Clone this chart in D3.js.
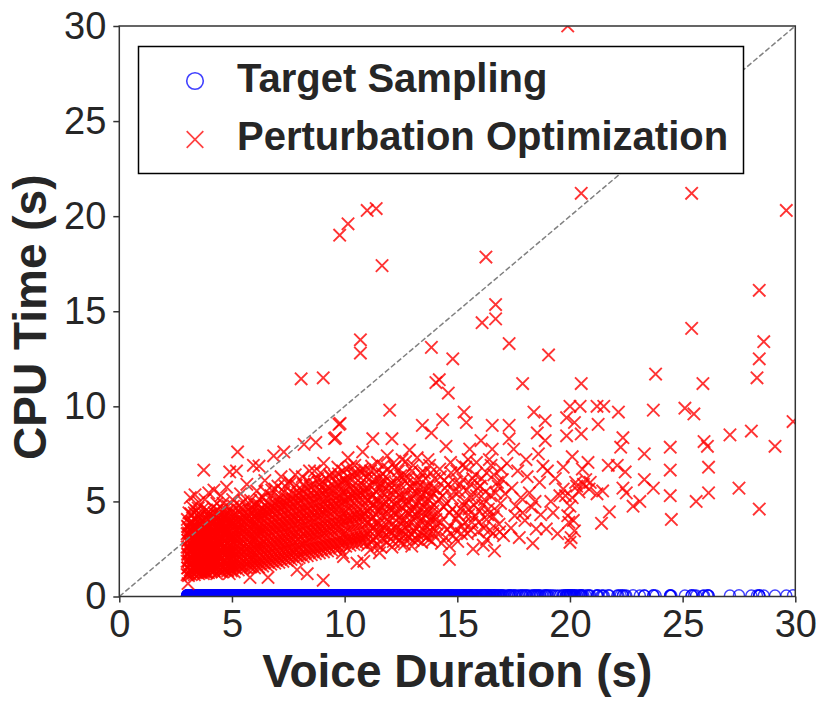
<!DOCTYPE html>
<html>
<head>
<meta charset="utf-8">
<title>CPU time vs voice duration</title>
<script src="https://cdn.jsdelivr.net/npm/d3@7"></script>
<style>
  body { margin: 0; background: #fff; }
  svg { font-family: "Liberation Sans", Arial, Helvetica, sans-serif; }
</style>
</head>
<body>
<svg id="chart" width="830" height="708"></svg>
<script>
// each clip: [voice duration (s), perturbation optimization CPU (s), target sampling CPU (s)]
const clips3to5 = [
  [3.01,1.15,.05],[3.01,1.85,.06],[3.01,2.6,.05],[3.01,3.3,.04],[3.02,4.05,.06],
  [3.05,0.68,.05],[3.05,1.5,.04],[3.05,2.2,.06],[3.05,2.95,.05],[3.05,3.65,.05],
  [3.09,1.2,.06],[3.09,1.9,.05],[3.09,2.55,.04],[3.09,3.25,.05],[3.09,4.4,.06],
  [3.14,1.4,.05],[3.14,2.1,.05],[3.14,2.8,.06],[3.14,3.5,.04],[3.15,5.2,.05],
  [3.19,1.15,.05],[3.19,1.75,.06],[3.19,2.45,.05],[3.19,3.1,.05],[3.19,3.8,.04],
  [3.24,1.5,.06],[3.24,2.2,.05],[3.24,2.9,.05],[3.24,3.55,.06],[3.25,4.7,.05],
  [3.3,1.25,.04],[3.3,1.95,.05],[3.3,2.65,.06],[3.3,3.35,.05],[3.3,4.1,.05],
  [3.35,1.6,.05],[3.35,2.35,.04],[3.35,3.05,.05],[3.35,3.75,.06],[3.36,5.35,.05],
  [3.41,1.3,.06],[3.41,2.0,.05],[3.41,2.7,.05],[3.41,3.4,.04],[3.42,4.5,.05],
  [3.46,1.55,.05],[3.46,2.25,.06],[3.46,2.95,.05],[3.46,3.65,.05],
  [3.52,1.2,.04],[3.52,1.9,.05],[3.52,2.6,.06],[3.52,3.3,.05],[3.52,4.2,.05],[3.53,4.95,.06],
  [3.57,1.45,.05],[3.57,2.15,.05],[3.57,2.85,.04],[3.57,3.55,.06],
  [3.63,1.3,.05],[3.63,2.0,.06],[3.63,2.7,.05],[3.63,3.4,.05],[3.63,3.95,.04],
  [3.68,1.6,.05],[3.68,2.3,.05],[3.68,3.05,.06],[3.68,3.75,.05],[3.69,4.6,.05],
  [3.73,1.2,.06],[3.73,1.95,.04],[3.73,2.6,.05],[3.73,3.3,.05],[3.75,6.65,.06],
  [3.79,1.45,.05],[3.79,2.15,.05],[3.79,2.9,.06],[3.79,3.6,.04],[3.8,5.1,.05],
  [3.85,1.3,.05],[3.85,2.05,.06],[3.85,2.75,.05],[3.85,3.45,.05],[3.85,4.15,.04],
  [3.9,1.6,.06],[3.9,2.35,.05],[3.9,3.05,.05],[3.9,3.8,.06],
  [3.96,1.25,.05],[3.96,1.95,.04],[3.96,2.6,.05],[3.96,3.3,.06],[3.96,4.45,.05],[3.97,5.45,.05],
  [4.02,1.55,.05],[4.02,2.25,.06],[4.02,2.95,.05],[4.02,3.7,.04],
  [4.08,1.3,.05],[4.08,2.0,.05],[4.08,2.7,.06],[4.08,3.4,.05],[4.08,4.1,.05],
  [4.14,1.65,.04],[4.14,2.4,.05],[4.14,3.1,.06],[4.14,3.85,.05],[4.2,5.6,.05],
  [4.2,1.35,.06],[4.2,2.1,.05],[4.2,2.8,.05],[4.2,3.5,.04],[4.21,4.4,.05],
  [4.26,1.7,.05],[4.26,2.45,.06],[4.26,3.2,.05],[4.26,3.95,.05],
  [4.32,1.2,.04],[4.32,1.95,.05],[4.32,2.65,.06],[4.32,3.35,.05],[4.33,4.9,.05],
  [4.38,1.55,.05],[4.38,2.3,.05],[4.38,3.05,.04],[4.38,3.75,.06],[4.38,4.25,.05],
  [4.44,1.35,.05],[4.44,2.1,.06],[4.44,2.85,.05],[4.44,3.55,.05],
  [4.5,1.7,.04],[4.5,2.5,.05],[4.5,3.25,.06],[4.5,4.0,.05],[4.51,5.3,.05],
  [4.56,1.3,.05],[4.56,2.0,.05],[4.56,2.75,.06],[4.56,3.45,.04],[4.57,4.6,.05],
  [4.62,1.6,.06],[4.62,2.35,.05],[4.62,3.1,.05],[4.62,3.85,.05],
  [4.68,1.4,.05],[4.68,2.15,.04],[4.68,2.9,.05],[4.68,3.6,.06],[4.69,4.3,.05],
  [4.75,1.75,.05],[4.75,2.5,.06],[4.75,3.3,.05],[4.75,4.05,.05],[4.76,5.75,.04],
  [4.81,1.35,.05],[4.81,2.05,.05],[4.81,2.8,.06],[4.81,3.5,.05],[4.82,4.75,.05],
  [4.88,1.2,.06],[4.88,1.65,.05],[4.88,2.4,.04],[4.88,3.15,.05],[4.88,3.9,.05],[4.9,6.55,.06],
  [4.94,1.45,.05],[4.94,2.2,.05],[4.94,2.95,.06],[4.94,3.7,.05],[4.95,4.45,.04]
];

const clips3to5More = [
  [3.03,1.5,.05],[3.03,2.25,.06],[3.04,2.95,.05],[3.03,3.7,.05],
  [3.07,1.1,.04],[3.07,1.85,.05],[3.08,2.6,.06],[3.07,3.35,.05],
  [3.12,1.65,.05],[3.12,2.4,.05],[3.11,3.05,.04],[3.12,3.85,.06],
  [3.17,1.35,.05],[3.17,2.05,.05],[3.16,2.75,.06],[3.17,3.45,.05],[3.18,4.35,.05],
  [3.22,1.85,.04],[3.21,2.55,.05],[3.22,3.25,.06],[3.22,3.95,.05],
  [3.27,1.55,.05],[3.27,2.3,.06],[3.28,3.0,.05],[3.27,3.7,.04],
  [3.33,1.15,.05],[3.32,1.85,.05],[3.33,2.55,.06],[3.32,3.25,.05],[3.33,4.4,.05],
  [3.38,1.45,.06],[3.38,2.15,.05],[3.39,2.85,.04],[3.38,3.55,.05],
  [3.44,1.85,.05],[3.43,2.6,.06],[3.44,3.2,.05],[3.44,3.95,.05],
  [3.49,1.35,.05],[3.49,2.05,.04],[3.5,2.75,.05],[3.49,3.45,.06],[3.5,4.65,.05],
  [3.55,1.65,.05],[3.55,2.4,.06],[3.54,3.1,.05],[3.55,3.85,.05],
  [3.6,1.25,.04],[3.6,1.95,.05],[3.61,2.6,.05],[3.6,3.3,.06],[3.6,4.3,.05],
  [3.66,1.5,.05],[3.66,2.25,.06],[3.65,2.95,.05],[3.66,3.6,.04],
  [3.71,1.75,.05],[3.71,2.45,.05],[3.7,3.15,.06],[3.71,4.0,.05],
  [3.76,1.3,.05],[3.76,2.1,.04],[3.77,2.75,.05],[3.76,3.5,.06],
  [3.82,1.6,.05],[3.82,2.35,.05],[3.81,3.0,.06],[3.82,3.8,.05],[3.83,4.5,.04],
  [3.88,1.25,.05],[3.87,1.9,.06],[3.88,2.6,.05],[3.88,3.3,.05],
  [3.93,1.5,.06],[3.93,2.2,.05],[3.92,2.9,.04],[3.93,3.6,.05],[3.93,4.25,.05],
  [3.99,1.75,.05],[3.99,2.45,.06],[3.98,3.1,.05],[3.99,3.95,.05],
  [4.05,1.4,.04],[4.05,2.1,.05],[4.06,2.8,.06],[4.05,3.55,.05],[4.05,4.35,.05],
  [4.11,1.8,.05],[4.11,2.55,.05],[4.12,3.3,.06],[4.11,4.0,.04],
  [4.17,1.5,.05],[4.17,2.25,.06],[4.17,2.95,.05],[4.18,3.7,.05],[4.17,4.7,.05],
  [4.23,1.9,.06],[4.23,2.6,.05],[4.24,3.35,.04],[4.23,4.15,.05],
  [4.29,1.45,.05],[4.29,2.2,.05],[4.29,2.95,.06],[4.3,3.65,.05],
  [4.35,1.8,.05],[4.35,2.55,.04],[4.36,3.3,.05],[4.35,4.05,.06],[4.36,4.55,.05],
  [4.41,1.5,.05],[4.41,2.25,.06],[4.42,2.95,.05],[4.41,3.9,.05],
  [4.47,1.95,.04],[4.47,2.7,.05],[4.47,3.45,.06],[4.48,4.25,.05],
  [4.53,1.5,.05],[4.53,2.3,.05],[4.54,3.05,.06],[4.53,3.75,.05],
  [4.59,1.85,.05],[4.59,2.55,.04],[4.6,3.3,.05],[4.59,4.15,.06],[4.6,4.9,.05],
  [4.65,1.45,.05],[4.65,2.2,.06],[4.66,2.95,.05],[4.65,3.7,.05],
  [4.71,1.9,.05],[4.71,2.65,.05],[4.72,3.45,.04],[4.71,4.2,.06],
  [4.78,1.55,.05],[4.78,2.3,.05],[4.79,3.05,.06],[4.78,3.8,.05],[4.79,4.5,.05],
  [4.85,1.95,.04],[4.85,2.65,.05],[4.86,3.4,.06],[4.85,4.2,.05],
  [4.91,1.6,.05],[4.91,2.4,.05],[4.92,3.15,.06],[4.91,3.9,.05],
  [4.97,1.35,.05],[4.97,2.0,.06],[4.98,2.7,.05],[4.97,3.45,.04],[4.98,4.2,.05]
];

const clips5to8 = [
  [5.02,1.6,.05],[5.02,2.35,.06],[5.02,3.1,.05],[5.02,3.85,.05],[5.03,5.1,.04],
  [5.1,1.3,.05],[5.1,2.05,.05],[5.1,2.8,.06],[5.1,3.5,.05],[5.1,4.3,.05],
  [5.19,1.7,.04],[5.19,2.45,.05],[5.19,3.2,.06],[5.19,3.95,.05],[5.2,6.6,.05],
  [5.25,7.6,.05],
  [5.28,1.4,.06],[5.28,2.15,.05],[5.28,2.9,.05],[5.28,3.65,.04],[5.29,4.55,.05],
  [5.37,1.75,.05],[5.37,2.5,.06],[5.37,3.3,.05],[5.37,4.05,.05],[5.38,5.4,.06],
  [5.46,1.45,.05],[5.46,2.2,.04],[5.46,2.95,.05],[5.46,3.75,.05],[5.46,4.6,.06],
  [5.55,1.8,.05],[5.55,2.6,.05],[5.55,3.4,.06],[5.55,4.15,.05],
  [5.64,1.5,.04],[5.64,2.3,.05],[5.64,3.05,.05],[5.64,3.85,.06],[5.65,4.7,.05],[5.66,5.9,.05],
  [5.73,1.85,.05],[5.73,2.65,.06],[5.73,3.45,.05],[5.73,4.25,.04],
  [5.8,1.0,.05],[5.82,1.55,.05],[5.82,2.35,.06],[5.82,3.15,.05],[5.82,3.95,.05],[5.83,5.05,.05],
  [5.91,1.9,.04],[5.91,2.7,.05],[5.91,3.5,.06],[5.91,4.35,.05],
  [5.95,6.9,.05],
  [6.0,1.5,.05],[6.0,2.3,.06],[6.0,3.1,.05],[6.0,3.9,.04],[6.01,4.8,.05],
  [6.09,1.85,.05],[6.09,2.65,.05],[6.09,3.45,.06],[6.09,4.25,.05],[6.1,5.55,.05],
  [6.18,1.55,.06],[6.18,2.4,.05],[6.18,3.2,.04],[6.18,4.0,.05],[6.19,4.85,.05],
  [6.2,6.85,.05],
  [6.27,1.95,.05],[6.27,2.75,.06],[6.27,3.55,.05],[6.27,4.4,.05],
  [6.36,1.6,.04],[6.36,2.45,.05],[6.36,3.3,.05],[6.36,4.1,.06],[6.37,5.2,.05],
  [6.45,2.0,.05],[6.45,2.85,.05],[6.45,3.65,.06],[6.45,4.5,.05],[6.46,6.1,.04],
  [6.54,1.65,.05],[6.54,2.5,.06],[6.54,3.35,.05],[6.54,4.2,.05],[6.55,4.95,.05],
  [6.6,1.0,.06],
  [6.63,2.05,.05],[6.63,2.9,.05],[6.63,3.75,.04],[6.63,4.6,.05],
  [6.72,1.7,.06],[6.72,2.55,.05],[6.72,3.4,.05],[6.72,4.3,.05],[6.73,5.3,.06],
  [6.81,2.1,.05],[6.81,2.95,.04],[6.81,3.8,.05],[6.81,4.7,.05],
  [6.85,7.4,.06],
  [6.9,1.75,.05],[6.9,2.6,.05],[6.9,3.5,.06],[6.9,4.35,.05],[6.91,5.65,.05],
  [6.99,2.15,.04],[6.99,3.0,.05],[6.99,3.9,.05],[6.99,4.8,.06],
  [7.08,1.8,.05],[7.08,2.7,.05],[7.08,3.55,.06],[7.08,4.45,.05],[7.09,5.1,.04],
  [7.17,2.2,.05],[7.17,3.1,.05],[7.17,3.95,.06],[7.17,4.85,.05],[7.18,6.3,.05],
  [7.26,1.85,.06],[7.26,2.75,.05],[7.26,3.65,.05],[7.26,4.55,.04],
  [7.3,7.6,.05],
  [7.35,2.25,.05],[7.35,3.15,.06],[7.35,4.05,.05],[7.35,4.95,.05],[7.36,5.8,.05],
  [7.44,1.9,.04],[7.44,2.8,.05],[7.44,3.7,.06],[7.44,4.6,.05],
  [7.53,2.3,.05],[7.53,3.2,.05],[7.53,4.1,.06],[7.53,5.05,.05],[7.54,6.05,.04],
  [7.62,1.95,.05],[7.62,2.85,.05],[7.62,3.75,.06],[7.62,4.7,.05],
  [7.71,2.35,.05],[7.71,3.25,.04],[7.71,4.2,.05],[7.71,5.15,.06],
  [7.8,2.0,.05],[7.8,2.9,.05],[7.8,3.85,.06],[7.8,4.8,.05],[7.81,6.4,.05],
  [7.89,1.4,.05],[7.89,2.45,.06],[7.89,3.35,.05],[7.89,4.3,.04],[7.89,5.3,.05],
  [7.98,2.05,.05],[7.98,3.0,.06],[7.98,3.95,.05],[7.98,4.9,.05]
];

const clips5to8More = [
  [5.06,1.7,.05],[5.06,2.45,.05],[5.07,3.2,.06],[5.06,3.95,.05],[5.07,4.75,.04],
  [5.14,1.5,.05],[5.14,2.25,.06],[5.15,3.0,.05],[5.14,3.75,.05],
  [5.23,1.95,.05],[5.23,2.7,.04],[5.24,3.5,.05],[5.23,4.3,.06],
  [5.32,1.6,.05],[5.32,2.35,.05],[5.33,3.1,.06],[5.32,3.9,.05],[5.33,4.8,.05],
  [5.41,1.95,.04],[5.41,2.75,.05],[5.42,3.5,.06],[5.41,4.3,.05],
  [5.5,1.55,.05],[5.5,2.35,.05],[5.51,3.15,.06],[5.5,3.95,.05],[5.51,5.0,.05],
  [5.59,2.0,.06],[5.59,2.8,.05],[5.6,3.6,.04],[5.59,4.4,.05],
  [5.68,1.7,.05],[5.68,2.5,.06],[5.69,3.3,.05],[5.68,4.1,.05],
  [5.77,2.05,.05],[5.77,2.85,.05],[5.78,3.65,.06],[5.77,4.5,.04],
  [5.86,1.7,.05],[5.86,2.5,.05],[5.87,3.3,.06],[5.86,4.1,.05],[5.87,4.75,.05],
  [5.95,2.05,.06],[5.95,2.9,.05],[5.96,3.7,.05],[5.95,4.55,.04],
  [6.04,1.7,.05],[6.04,2.5,.05],[6.05,3.3,.06],[6.04,4.1,.05],[6.05,4.9,.05],
  [6.13,2.05,.05],[6.13,2.85,.04],[6.14,3.65,.05],[6.13,4.45,.06],
  [6.22,1.75,.05],[6.22,2.6,.05],[6.23,3.4,.06],[6.22,4.2,.05],[6.23,5.1,.05],
  [6.31,2.15,.04],[6.31,2.95,.05],[6.32,3.8,.06],[6.31,4.6,.05],
  [6.4,1.8,.05],[6.4,2.65,.05],[6.41,3.5,.06],[6.4,4.3,.05],
  [6.49,2.2,.05],[6.49,3.05,.04],[6.5,3.9,.05],[6.49,4.75,.06],[6.5,5.5,.05],
  [6.58,1.85,.05],[6.58,2.7,.05],[6.59,3.55,.06],[6.58,4.4,.05],
  [6.67,2.25,.04],[6.67,3.15,.05],[6.68,4.0,.05],[6.67,4.85,.06],
  [6.76,1.9,.05],[6.76,2.75,.05],[6.77,3.6,.06],[6.76,4.5,.05],[6.77,5.6,.05],
  [6.85,2.3,.05],[6.85,3.2,.04],[6.86,4.05,.05],[6.85,4.95,.06],
  [6.94,1.95,.05],[6.94,2.8,.05],[6.95,3.7,.06],[6.94,4.6,.05],
  [7.03,2.35,.05],[7.03,3.25,.05],[7.04,4.15,.04],[7.03,5.05,.05],[7.04,5.8,.06],
  [7.12,2.0,.05],[7.12,2.9,.05],[7.13,3.75,.06],[7.12,4.65,.05],
  [7.21,2.4,.05],[7.21,3.3,.04],[7.22,4.2,.05],[7.21,5.1,.06],
  [7.3,2.05,.05],[7.3,2.95,.05],[7.31,3.85,.06],[7.3,4.75,.05],[7.31,5.5,.05],
  [7.39,2.45,.04],[7.39,3.35,.05],[7.4,4.3,.06],[7.39,5.2,.05],
  [7.48,2.1,.05],[7.48,3.0,.05],[7.49,3.9,.06],[7.48,4.85,.05],
  [7.57,2.5,.05],[7.57,3.4,.04],[7.58,4.35,.05],[7.57,5.3,.06],[7.58,5.95,.05],
  [7.66,2.15,.05],[7.66,3.05,.05],[7.67,4.0,.06],[7.66,4.9,.05],
  [7.75,2.55,.05],[7.75,3.5,.04],[7.76,4.45,.05],[7.75,5.4,.06],
  [7.84,2.2,.05],[7.84,3.15,.05],[7.85,4.1,.06],[7.84,5.0,.05],[7.85,5.85,.05],
  [7.93,2.6,.04],[7.93,3.55,.05],[7.94,4.5,.06],[7.93,5.45,.05]
];

const clips8to11 = [
  [8.07,2.45,.05],[8.07,3.4,.06],[8.07,4.35,.05],[8.07,5.35,.05],[8.07,11.45,.06],
  [8.16,2.1,.04],[8.16,3.05,.05],[8.16,4.0,.05],[8.16,4.95,.06],[8.17,5.9,.05],
  [8.2,8.0,.05],
  [8.25,2.5,.05],[8.25,3.45,.06],[8.25,4.45,.05],[8.25,5.4,.05],
  [8.34,1.2,.04],[8.34,2.15,.05],[8.34,3.1,.06],[8.34,4.1,.05],[8.34,5.05,.05],
  [8.43,2.55,.05],[8.43,3.5,.05],[8.43,4.5,.06],[8.44,6.6,.05],
  [8.52,2.2,.05],[8.52,3.15,.04],[8.52,4.15,.05],[8.52,5.15,.06],
  [8.61,2.6,.05],[8.61,3.6,.05],[8.61,4.6,.05],[8.62,5.6,.06],
  [8.7,2.25,.05],[8.7,3.25,.06],[8.7,4.25,.05],[8.7,5.25,.04],[8.72,8.1,.05],
  [8.79,2.65,.05],[8.79,3.65,.06],[8.79,4.65,.05],[8.8,6.2,.05],
  [8.88,2.3,.05],[8.88,3.3,.05],[8.88,4.3,.06],[8.88,5.3,.05],
  [8.97,2.7,.04],[8.97,3.7,.05],[8.97,4.75,.05],[8.98,5.75,.06],
  [9.05,0.85,.05],[9.05,11.5,.05],
  [9.06,2.35,.06],[9.06,3.35,.05],[9.06,4.4,.05],[9.06,5.4,.04],[9.07,7.0,.05],
  [9.15,2.75,.05],[9.15,3.8,.06],[9.15,4.85,.05],
  [9.24,2.4,.05],[9.24,3.45,.05],[9.24,4.5,.06],[9.24,5.55,.05],
  [9.33,2.8,.04],[9.33,3.85,.05],[9.33,4.9,.05],[9.34,6.4,.06],
  [9.42,2.45,.05],[9.42,3.5,.05],[9.42,4.55,.06],[9.42,5.6,.05],
  [9.51,2.85,.05],[9.51,3.9,.04],[9.51,5.0,.05],[9.55,8.3,.06],
  [9.6,2.5,.05],[9.6,3.55,.05],[9.6,4.6,.06],[9.6,5.7,.05],[9.6,8.35,.05],
  [9.69,2.9,.05],[9.69,3.95,.06],[9.69,5.05,.05],[9.7,6.8,.04],
  [9.75,9.05,.05],[9.78,19.0,.05],[9.8,9.1,.06],
  [9.78,2.55,.05],[9.78,3.6,.05],[9.78,4.7,.06],[9.78,5.8,.05],
  [9.87,2.95,.05],[9.87,4.05,.04],[9.87,5.15,.05],[9.9,2.3,.06],
  [9.95,2.1,.05],[9.96,3.3,.05],[9.96,4.4,.06],[9.96,5.5,.05],[9.97,6.15,.05],
  [10.05,2.65,.04],[10.05,3.75,.05],[10.05,4.85,.06],[10.06,5.95,.05],
  [10.14,3.05,.05],[10.14,4.15,.05],[10.14,5.25,.06],[10.15,7.3,.05],[10.15,19.6,.05],
  [10.23,2.7,.05],[10.23,3.8,.04],[10.23,4.9,.05],[10.23,6.0,.06],
  [10.32,3.1,.05],[10.32,4.2,.05],[10.32,5.35,.06],
  [10.41,2.75,.05],[10.41,3.85,.05],[10.41,4.95,.04],[10.42,6.5,.05],
  [10.5,3.15,.06],[10.5,4.3,.05],[10.5,5.45,.05],
  [10.55,1.75,.05],
  [10.59,2.8,.06],[10.59,3.9,.05],[10.59,5.05,.05],[10.6,6.1,.04],
  [10.68,3.2,.05],[10.68,4.35,.06],[10.68,5.5,.05],
  [10.7,12.8,.05],[10.7,13.5,.06],
  [10.77,2.85,.05],[10.77,3.95,.05],[10.77,5.1,.06],[10.78,6.7,.05],
  [10.8,7.6,.05],[10.85,1.85,.04],
  [10.86,3.25,.05],[10.86,4.4,.06],[10.86,5.6,.05],
  [10.95,2.9,.05],[10.95,4.05,.05],[10.95,5.2,.06],[10.96,6.25,.05]
];

const clips8to12More = [
  [8.02,2.2,.05],[8.02,3.15,.05],[8.03,4.1,.06],[8.02,5.05,.05],
  [8.11,2.7,.05],[8.11,3.65,.04],[8.12,4.6,.05],[8.11,5.6,.06],[8.12,6.3,.05],
  [8.2,2.35,.05],[8.2,3.3,.05],[8.21,4.25,.06],[8.2,5.2,.05],
  [8.29,2.8,.04],[8.29,3.75,.05],[8.3,4.7,.05],[8.29,5.7,.06],
  [8.38,2.4,.05],[8.38,3.35,.05],[8.39,4.3,.06],[8.38,5.3,.05],[8.39,6.05,.05],
  [8.47,2.85,.05],[8.47,3.8,.04],[8.48,4.8,.05],[8.47,5.8,.06],
  [8.56,2.45,.05],[8.56,3.4,.05],[8.57,4.4,.06],[8.56,5.4,.05],
  [8.65,2.9,.05],[8.65,3.9,.05],[8.66,4.9,.04],[8.65,5.9,.05],[8.66,6.6,.06],
  [8.74,2.5,.05],[8.74,3.5,.05],[8.75,4.45,.06],[8.74,5.45,.05],
  [8.83,2.95,.04],[8.83,3.95,.05],[8.84,4.95,.05],[8.83,6.0,.06],
  [8.92,2.55,.05],[8.92,3.55,.05],[8.93,4.55,.06],[8.92,5.55,.05],[8.93,6.5,.05],
  [9.01,3.0,.05],[9.01,4.0,.04],[9.02,5.0,.05],[9.01,6.05,.06],
  [9.1,2.6,.05],[9.1,3.6,.05],[9.11,4.6,.06],[9.1,5.6,.05],
  [9.19,3.05,.05],[9.19,4.1,.05],[9.2,5.15,.04],[9.19,6.2,.05],
  [9.28,2.65,.06],[9.28,3.65,.05],[9.29,4.7,.05],[9.28,5.75,.05],
  [9.37,3.1,.06],[9.37,4.15,.05],[9.38,5.2,.05],[9.37,6.3,.04],
  [9.46,2.7,.05],[9.46,3.7,.06],[9.47,4.75,.05],[9.46,5.85,.05],
  [9.55,3.15,.05],[9.55,4.2,.05],[9.56,5.3,.06],[9.55,6.35,.05],
  [9.64,2.75,.04],[9.64,3.8,.05],[9.65,4.85,.05],[9.64,5.95,.06],
  [9.73,3.2,.05],[9.73,4.3,.05],[9.74,5.35,.06],[9.73,6.45,.05],
  [9.82,2.8,.05],[9.82,3.85,.04],[9.83,4.95,.05],[9.82,6.05,.06],
  [9.91,3.25,.05],[9.91,4.35,.05],[9.92,5.45,.06],[9.91,6.6,.05],
  [10.0,2.85,.05],[10.0,3.95,.05],[10.01,5.05,.04],[10.0,6.15,.05],
  [10.09,3.3,.06],[10.09,4.45,.05],[10.1,5.55,.05],[10.09,6.7,.05],
  [10.18,2.9,.06],[10.18,4.0,.05],[10.19,5.15,.05],[10.18,6.25,.04],
  [10.27,3.35,.05],[10.27,4.5,.06],[10.28,5.65,.05],[10.27,6.85,.05],
  [10.36,2.95,.05],[10.36,4.1,.05],[10.37,5.25,.06],[10.36,6.35,.05],
  [10.45,3.4,.04],[10.45,4.55,.05],[10.46,5.7,.05],[10.45,6.9,.06],
  [10.54,3.0,.05],[10.54,4.15,.05],[10.55,5.3,.06],[10.54,6.45,.05],
  [10.63,3.45,.05],[10.63,4.6,.04],[10.64,5.8,.05],
  [10.72,3.05,.06],[10.72,4.2,.05],[10.73,5.4,.05],[10.72,6.55,.05],
  [10.81,3.5,.06],[10.81,4.7,.05],[10.82,5.85,.05],
  [10.9,3.1,.04],[10.9,4.3,.05],[10.91,5.45,.06],[10.9,6.65,.05],
  [11.0,2.7,.05],[11.0,3.9,.05],[11.01,5.1,.06],[11.0,6.3,.05],
  [11.1,3.45,.05],[11.1,4.65,.04],[11.11,5.85,.05],
  [11.2,2.85,.06],[11.2,4.05,.05],[11.21,5.25,.05],[11.2,6.85,.05],
  [11.3,3.65,.06],[11.3,4.85,.05],[11.31,6.15,.05],
  [11.4,3.1,.04],[11.4,4.3,.05],[11.41,5.5,.06],[11.4,6.55,.05],
  [11.5,3.8,.05],[11.5,5.0,.05],[11.51,6.2,.06],
  [11.6,2.6,.05],[11.6,3.55,.05],[11.61,4.75,.04],[11.6,5.95,.05],
  [11.71,3.3,.06],[11.71,4.5,.05],[11.72,5.7,.05],[11.71,6.85,.05],
  [11.82,3.8,.06],[11.82,5.0,.05],[11.83,6.3,.05],
  [11.93,3.15,.04],[11.93,4.35,.05],[11.94,5.55,.06],[11.93,6.7,.05]
];

const clips11to14 = [
  [11.0,20.3,.05],
  [11.05,3.3,.05],[11.05,4.5,.06],[11.05,5.7,.05],
  [11.14,2.45,.05],[11.14,3.7,.04],[11.14,4.9,.05],[11.15,6.6,.06],
  [11.25,3.0,.05],[11.25,4.2,.05],[11.25,5.35,.06],[11.25,8.3,.05],
  [11.35,3.45,.05],[11.35,4.65,.05],[11.35,5.9,.04],[11.4,20.4,.05],
  [11.45,2.7,.06],[11.45,3.9,.05],[11.45,5.1,.05],[11.46,7.05,.05],
  [11.55,2.3,.05],[11.55,3.35,.06],[11.55,4.55,.05],[11.55,5.75,.05],
  [11.66,3.05,.04],[11.66,4.25,.05],[11.66,5.45,.06],[11.67,6.45,.05],[11.66,17.4,.05],
  [11.77,3.6,.05],[11.77,4.85,.05],[11.77,6.05,.06],
  [11.88,2.85,.05],[11.88,4.05,.05],[11.88,5.25,.04],[11.89,7.4,.05],
  [11.99,3.4,.06],[11.99,4.6,.05],[11.99,5.85,.05],
  [12.0,9.8,.05],
  [12.1,2.6,.05],[12.1,3.8,.06],[12.1,5.0,.05],[12.1,8.3,.05],
  [12.21,3.2,.04],[12.21,4.4,.05],[12.21,5.6,.06],[12.22,6.8,.05],
  [12.32,3.65,.05],[12.32,4.9,.05],[12.33,6.2,.06],
  [12.43,2.95,.05],[12.43,4.15,.05],[12.43,5.35,.04],
  [12.54,3.45,.05],[12.54,4.7,.06],[12.55,7.2,.05],
  [12.6,3.2,.05],
  [12.65,2.75,.05],[12.65,4.0,.06],[12.65,5.25,.05],[12.66,6.4,.05],
  [12.76,3.55,.04],[12.76,4.8,.05],[12.77,5.95,.06],
  [12.87,3.1,.05],[12.87,4.35,.05],[12.88,7.7,.05],
  [12.98,2.65,.06],[12.98,3.9,.05],[12.98,5.15,.05],[12.99,6.6,.04],
  [13.09,3.4,.05],[13.09,4.6,.06],[13.1,5.8,.05],
  [13.2,3.0,.05],[13.2,4.25,.05],[13.21,5.45,.06],[13.22,7.3,.05],
  [13.31,3.7,.05],[13.31,4.95,.04],[13.32,6.15,.05],
  [13.42,2.85,.06],[13.42,4.1,.05],[13.43,5.35,.05],[13.45,9.0,.05],
  [13.53,3.45,.05],[13.53,4.7,.06],[13.54,6.5,.05],
  [13.64,3.1,.05],[13.64,4.35,.04],[13.65,5.6,.05],
  [13.75,3.0,.06],[13.76,3.8,.05],[13.76,5.05,.05],[13.77,6.9,.05],
  [13.85,8.6,.06],[13.85,13.1,.05],
  [13.87,2.9,.05],[13.87,4.2,.05],[13.88,5.5,.04],
  [13.98,3.55,.05],[13.98,4.8,.06],[13.99,6.2,.05]
];

const clips12to17More = [
  [12.05,3.45,.05],[12.05,4.7,.05],[12.06,6.0,.06],
  [12.16,2.9,.05],[12.16,4.15,.04],[12.17,5.35,.05],[12.16,7.0,.05],
  [12.27,3.5,.06],[12.27,4.75,.05],[12.28,5.95,.05],
  [12.38,3.25,.05],[12.38,4.45,.06],[12.39,5.7,.05],[12.38,6.6,.04],
  [12.49,2.8,.05],[12.49,4.0,.05],[12.5,5.2,.06],[12.49,6.35,.05],
  [12.6,3.7,.05],[12.6,4.95,.05],[12.61,6.15,.04],
  [12.71,3.25,.05],[12.71,4.45,.06],[12.72,5.6,.05],[12.71,7.1,.05],
  [12.82,3.8,.05],[12.82,5.0,.06],[12.83,6.25,.05],
  [12.93,3.3,.04],[12.93,4.55,.05],[12.94,5.75,.05],
  [13.04,2.95,.06],[13.04,4.2,.05],[13.05,5.4,.05],[13.04,6.9,.05],
  [13.15,3.6,.06],[13.15,4.85,.05],[13.16,6.1,.04],
  [13.26,3.25,.05],[13.26,4.5,.05],[13.27,5.75,.06],
  [13.37,3.95,.05],[13.37,5.15,.05],[13.38,6.5,.05],
  [13.48,3.2,.06],[13.48,4.4,.05],[13.49,5.65,.04],
  [13.59,3.75,.05],[13.59,5.0,.05],[13.6,6.2,.06],
  [13.7,3.4,.05],[13.7,4.6,.05],[13.71,5.8,.05],[13.7,7.2,.06],
  [13.81,4.0,.05],[13.81,5.25,.04],[13.82,6.5,.05],
  [13.92,3.3,.05],[13.92,4.5,.06],[13.93,5.7,.05],
  [14.08,3.8,.05],[14.1,5.6,.05],[14.15,4.4,.06],[14.22,6.7,.05],[14.28,3.9,.04],
  [14.35,5.3,.05],[14.42,6.1,.05],[14.48,3.1,.06],[14.52,4.9,.05],[14.6,5.9,.05],
  [14.68,3.7,.05],[14.72,6.5,.06],[14.78,4.6,.05],[14.86,5.5,.04],[14.92,3.5,.05],
  [14.98,6.6,.05],[15.05,4.3,.06],[15.12,5.9,.05],[15.18,3.3,.05],[15.22,6.9,.05],
  [15.28,4.8,.06],[15.35,3.9,.05],[15.42,5.6,.04],[15.48,7.2,.05],[15.52,4.6,.05],
  [15.58,3.5,.06],[15.62,5.2,.05],[15.68,6.2,.05],[15.78,4.2,.05],[15.9,5.7,.06],
  [15.95,3.9,.05],[16.08,6.2,.04],[16.12,4.8,.05],[16.18,3.6,.05],[16.25,5.5,.06],
  [16.35,4.3,.05],[16.42,7.2,.05],[16.48,5.3,.05],[16.58,3.3,.06],[16.62,6.4,.05],
  [16.75,4.5,.04],[16.82,5.8,.05],[16.88,3.4,.05],[16.95,6.7,.06]
];

const clips14to20 = [
  [14.05,4.05,.05],[14.05,11.25,.05],[14.12,3.3,.06],[14.18,5.1,.05],[14.2,11.4,.05],
  [14.25,6.3,.04],[14.3,2.8,.05],[14.35,9.3,.06],[14.4,4.7,.05],[14.45,5.7,.05],
  [14.5,7.9,.05],[14.55,3.5,.06],[14.6,10.7,.05],[14.65,1.95,.05],[14.65,2.65,.04],
  [14.65,4.4,.05],[14.7,7.05,.06],[14.75,5.2,.05],[14.8,12.5,.05],[14.82,3.2,.05],
  [14.9,6.0,.06],[14.95,4.1,.05],[15.02,2.9,.05],[15.08,5.5,.04],[15.15,4.6,.05],
  [15.2,3.7,.06],[15.25,6.15,.05],[15.3,9.7,.05],[15.32,5.0,.05],[15.38,6.8,.06],
  [15.4,9.15,.05],[15.45,3.3,.05],[15.5,4.3,.04],[15.55,7.75,.05],[15.6,5.9,.06],
  [15.65,3.9,.05],[15.7,2.5,.05],[15.75,4.8,.05],[15.8,6.4,.06],[15.85,5.3,.05],
  [15.85,7.05,.05],[15.92,3.4,.04],[15.98,4.5,.05],[16.02,5.8,.06],[16.05,8.2,.05],
  [16.1,14.4,.05],[16.15,2.7,.05],[16.2,5.1,.06],[16.27,17.85,.05],[16.3,3.0,.05],
  [16.3,4.05,.04],[16.3,6.5,.05],[16.38,4.6,.06],[16.45,3.5,.05],[16.5,6.9,.05],
  [16.55,7.75,.05],[16.55,9.0,.06],[16.6,4.2,.05],[16.65,2.4,.05],[16.7,5.45,.04],
  [16.7,14.6,.05],[16.7,15.35,.06],[16.78,6.0,.05],[16.85,3.8,.05],[16.92,4.9,.05],
  [17.0,6.15,.06],[17.05,3.2,.05],[17.12,5.4,.05],[17.2,7.0,.04],[17.3,8.3,.05],
  [17.3,9.0,.06],[17.3,13.3,.05],[17.38,3.6,.05],[17.42,5.7,.05],[17.5,7.75,.06],
  [17.55,4.25,.05],[17.6,4.75,.05],[17.68,6.6,.04],[17.75,3.1,.05],[17.82,5.2,.06],
  [17.9,4.4,.05],[17.9,11.2,.05],[18.0,4.0,.05],[18.05,7.2,.06],[18.1,6.3,.05],
  [18.2,5.45,.05],[18.3,4.7,.04],[18.35,2.8,.05],[18.4,9.7,.06],[18.45,5.0,.05],
  [18.5,3.55,.05],[18.55,8.6,.05],[18.6,7.5,.06],[18.65,6.0,.05],[18.7,4.3,.05],
  [18.8,6.85,.04],[18.9,8.2,.05],[18.9,9.25,.06],[18.95,3.55,.05],[19.0,6.6,.05],
  [19.05,12.7,.05],[19.15,5.0,.06],[19.25,4.4,.05],[19.35,6.2,.05],[19.45,3.3,.04],
  [19.55,5.3,.05],[19.7,5.65,.06],[19.7,6.8,.05],[19.8,5.3,.05],[19.85,8.45,.05],
  [19.85,9.4,.06],[19.9,4.25,.05],[19.9,30.0,.05],[19.95,3.9,.04]
];

const clips20to30 = [
  [20.0,2.85,.05],[20.0,4.75,.06],[20.0,10.0,.05],[20.05,3.1,.05],[20.1,5.2,.05],
  [20.1,7.35,.06],[20.15,4.0,.05],[20.2,3.45,.05],[20.2,9.15,.04],[20.25,6.0,.05],
  [20.3,5.8,.06],[20.4,5.5,.05],[20.45,10.0,.05],[20.5,8.55,.05],[20.5,11.2,.06],
  [20.5,21.2,.05],[20.55,6.7,.05],[20.6,5.9,.04],[20.7,6.15,.05],[20.8,7.05,.06],
  [20.85,5.65,.05],[20.9,6.0,.05],[21.2,5.4,.05],[21.2,10.0,.06],[21.25,9.05,.05],
  [21.4,3.85,.05],[21.45,5.55,.04],[21.5,10.0,.05],[21.7,6.9,.06],[21.75,4.45,.05],
  [22.1,6.9,.05],[22.15,9.7,.05],[22.25,7.85,.06],[22.35,5.7,.05],[22.35,8.35,.05],
  [22.45,6.55,.04],[22.5,5.45,.05],[22.8,4.75,.06],[23.1,5.0,.05],[23.3,6.15,.05],
  [23.3,7.5,.05],[23.7,5.7,.06],[23.7,9.8,.05],[23.8,11.7,.05],[24.45,5.3,.04],
  [24.45,6.65,.05],[24.45,7.85,.06],[24.5,4.05,.05],[25.1,9.9,.05],[25.4,14.1,.05],
  [25.4,21.2,.06],[25.5,9.6,.05],[25.6,5.0,.05],[25.9,11.2,.04],[25.95,8.15,.05],
  [26.1,7.9,.06],[26.15,5.45,.05],[26.15,6.8,.05],[27.1,8.5,.05],[27.5,5.7,.06],
  [28.05,8.7,.05],[28.3,11.5,.05],[28.4,4.6,.04],[28.4,12.5,.05],[28.4,16.1,.06],
  [28.6,13.4,.05],[29.1,7.9,.05],[29.6,20.3,.05],[29.9,9.2,.06]
];

const xTicks = [0, 5, 10, 15, 20, 25, 30];
const yTicks = [0, 5, 10, 15, 20, 25, 30];
const seriesNames = ["Target Sampling", "Perturbation Optimization"];

const clips = [].concat(clips3to5, clips3to5More, clips5to8, clips5to8More,
  clips8to11, clips8to12More, clips11to14, clips12to17More, clips14to20, clips20to30);

const svg = d3.select("#chart");
const plot = { left: 119.3, right: 795.3, top: 26, bottom: 596.5 };
const ink = "#262626";

const x = d3.scaleLinear().domain([0, 30]).range([plot.left, plot.right]);
const y = d3.scaleLinear().domain([0, 30]).range([plot.bottom, plot.top]);

svg.append("defs").append("clipPath").attr("id", "plot-clip")
  .append("rect")
  .attr("x", plot.left).attr("y", plot.top)
  .attr("width", plot.right - plot.left).attr("height", plot.bottom - plot.top);

const marks = svg.append("g").attr("clip-path", "url(#plot-clip)");

// target sampling (blue circles)
marks.append("g").selectAll("circle")
  .data(clips)
  .join("circle")
  .attr("cx", d => x(d[0]))
  .attr("cy", d => y(d[2]))
  .attr("r", 5.5)
  .attr("fill", "none")
  .attr("stroke", "blue")
  .attr("stroke-opacity", 0.75)
  .attr("stroke-width", 1.5);

// perturbation optimization (red crosses)
const h = 6.2;
const cross = `M${-h},${-h}L${h},${h}M${-h},${h}L${h},${-h}`;
marks.append("g").selectAll("path")
  .data(clips)
  .join("path")
  .attr("transform", d => `translate(${x(d[0])},${y(d[1])})`)
  .attr("d", cross)
  .attr("fill", "none")
  .attr("stroke", "red")
  .attr("stroke-opacity", 0.8)
  .attr("stroke-width", 1.9);

// y = x reference line
marks.append("line")
  .attr("x1", x(0)).attr("y1", y(0))
  .attr("x2", x(30)).attr("y2", y(30))
  .attr("stroke", "#808080")
  .attr("stroke-width", 1.5)
  .attr("stroke-dasharray", "5.5,2.4");

// axes
const xAxis = svg.append("g")
  .attr("transform", `translate(0,${plot.bottom})`)
  .call(d3.axisBottom(x).tickValues(xTicks).tickSize(6).tickPadding(7.5).tickFormat(d3.format("d")));
const yAxis = svg.append("g")
  .attr("transform", `translate(${plot.left},0)`)
  .call(d3.axisLeft(y).tickValues(yTicks).tickSize(6).tickPadding(7).tickFormat(d3.format("d")));

[xAxis, yAxis].forEach(g => {
  g.select(".domain").remove();
  g.attr("font-family", null).attr("font-size", 38);
  g.selectAll(".tick line").attr("stroke", "#333").attr("stroke-width", 1.5);
  g.selectAll(".tick text").attr("fill", ink);
});

// frame
svg.append("rect")
  .attr("x", plot.left).attr("y", plot.top)
  .attr("width", plot.right - plot.left).attr("height", plot.bottom - plot.top)
  .attr("fill", "none")
  .attr("stroke", "#333")
  .attr("stroke-width", 1.5);

// axis titles
svg.append("text")
  .attr("x", (plot.left + plot.right) / 2)
  .attr("y", 687)
  .attr("text-anchor", "middle")
  .attr("font-size", 46)
  .attr("font-weight", "bold")
  .attr("fill", ink)
  .text("Voice Duration (s)");

svg.append("text")
  .attr("transform", `translate(46,${(plot.top + plot.bottom) / 2 + 6}) rotate(-90)`)
  .attr("text-anchor", "middle")
  .attr("font-size", 46)
  .attr("font-weight", "bold")
  .attr("fill", ink)
  .text("CPU Time (s)");

// legend
const legend = svg.append("g");
legend.append("rect")
  .attr("x", 138.5).attr("y", 46.5)
  .attr("width", 605).attr("height", 127)
  .attr("fill", "#fff")
  .attr("stroke", "#000")
  .attr("stroke-width", 1.5);

legend.append("circle")
  .attr("cx", 195).attr("cy", 81).attr("r", 8.3)
  .attr("fill", "none").attr("stroke", "blue")
  .attr("stroke-opacity", 0.75).attr("stroke-width", 1.6);

const hl = 8.3;
legend.append("path")
  .attr("transform", "translate(195,139.5)")
  .attr("d", `M${-hl},${-hl}L${hl},${hl}M${-hl},${hl}L${hl},${-hl}`)
  .attr("stroke", "red").attr("stroke-opacity", 0.75).attr("stroke-width", 1.7);

legend.selectAll("text.label")
  .data(seriesNames)
  .join("text")
  .attr("class", "label")
  .attr("x", 237)
  .attr("y", (d, i) => 92 + i * 58)
  .attr("font-size", 40)
  .attr("font-weight", "bold")
  .attr("fill", ink)
  .text(d => d);
</script>
</body>
</html>
